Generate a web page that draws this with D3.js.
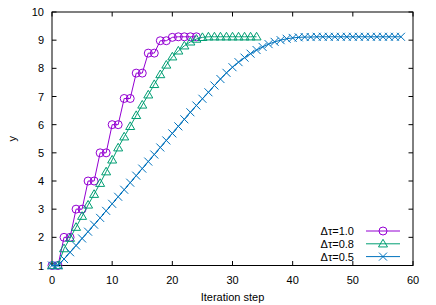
<!DOCTYPE html>
<html><head><meta charset="utf-8">
<script src="https://cdn.jsdelivr.net/npm/d3@7"></script>
<style>
html,body{margin:0;padding:0;background:#fff;}
svg text{font-family:"Liberation Sans",Arial,sans-serif;font-size:11px;fill:#000;}
</style></head>
<body><svg id="c" width="436" height="305"></svg>
<script>
// ---- data ----
const seriesNames = ["Δτ=1.0", "Δτ=0.8", "Δτ=0.5"];
const yDt10 = [1,1,2,2,3,3,4,4,5,5,6,6,6.93,6.93,7.83,7.83,8.54,8.54,8.98,8.98,9.1,9.12,9.12,9.12,9.12];
const yDt08 = [1,1,1.6,1.97,2.36,2.75,3.15,3.53,3.92,4.33,4.75,5.18,5.57,5.94,6.33,6.70,7.06,7.43,7.78,8.12,8.41,8.62,8.8,8.94,9.04,9.1,9.12,9.12,9.12,9.12,9.12,9.12,9.12,9.12,9.12];
const yDt05 = [1,1,1.23,1.47,1.71,1.96,2.2,2.45,2.69,2.94,3.19,3.44,3.69,3.94,4.19,4.44,4.69,4.94,5.19,5.44,5.69,5.94,6.19,6.44,6.68,6.92,7.15,7.39,7.62,7.84,8.04,8.22,8.38,8.52,8.65,8.76,8.86,8.94,9.0,9.05,9.08,9.1,9.11,9.11,9.12,9.12,9.12,9.12,9.12,9.12,9.12,9.12,9.12,9.12,9.12,9.12,9.12,9.12,9.12];
const xTicks = [0,10,20,30,40,50,60];
const yTicks = [1,2,3,4,5,6,7,8,9,10];
const xLabel = "Iteration step";
const yLabel = "y";

const colors = ["#9400d3", "#009e73", "#0072bd"];
const shapes = ["circle", "triangle", "cross"];
const allY = [yDt10, yDt08, yDt05];

const svg = d3.select("#c");
const L = 52, R = 413, T = 12, B = 265.5;
const x = d3.scaleLinear().domain([0, 60]).range([L, R]);
const y = d3.scaleLinear().domain([1, 10]).range([B, T]);

// border
svg.append("rect").attr("x", L).attr("y", T).attr("width", R - L).attr("height", B - T)
  .attr("fill", "none").attr("stroke", "#000").attr("stroke-width", 1);

// ticks (inward, mirrored)
const tl = 4.5;
const gAx = svg.append("g").attr("stroke", "#000").attr("stroke-width", 1);
xTicks.forEach(t => {
  gAx.append("line").attr("x1", x(t)).attr("x2", x(t)).attr("y1", B).attr("y2", B - tl);
  gAx.append("line").attr("x1", x(t)).attr("x2", x(t)).attr("y1", T).attr("y2", T + tl);
});
yTicks.forEach(t => {
  gAx.append("line").attr("x1", L).attr("x2", L + tl).attr("y1", y(t)).attr("y2", y(t));
  gAx.append("line").attr("x1", R).attr("x2", R - tl).attr("y1", y(t)).attr("y2", y(t));
});
xTicks.forEach(t => {
  svg.append("text").attr("x", x(t)).attr("y", B + 18).attr("text-anchor", "middle").text(t);
});
yTicks.forEach(t => {
  svg.append("text").attr("x", L - 8).attr("y", y(t) + 4).attr("text-anchor", "end").text(t);
});
svg.append("text").attr("x", (L + R) / 2).attr("y", 301).attr("text-anchor", "middle").text(xLabel);
svg.append("text").attr("transform", `translate(16,${(T + B) / 2}) rotate(-90)`)
  .attr("text-anchor", "middle").text(yLabel);

function marker(g, shape, cx, cy, col) {
  if (shape === "circle") {
    g.append("circle").attr("cx", cx).attr("cy", cy).attr("r", 4)
      .attr("fill", "none").attr("stroke", col).attr("stroke-width", 1);
  } else if (shape === "triangle") {
    const s = 4.5;
    g.append("path").attr("d", `M${cx},${cy - s}L${cx + s},${cy + s * 0.7}L${cx - s},${cy + s * 0.7}Z`)
      .attr("fill", "none").attr("stroke", col).attr("stroke-width", 1);
  } else {
    const s = 4;
    g.append("path").attr("d", `M${cx - s},${cy - s}L${cx + s},${cy + s}M${cx - s},${cy + s}L${cx + s},${cy - s}`)
      .attr("fill", "none").attr("stroke", col).attr("stroke-width", 1);
  }
}

const line = d3.line().x((d, i) => x(i)).y(d => y(d));
allY.forEach((vals, k) => {
  const g = svg.append("g");
  g.append("path").attr("d", line(vals)).attr("fill", "none")
    .attr("stroke", colors[k]).attr("stroke-width", 1);
  vals.forEach((v, i) => marker(g, shapes[k], x(i), y(v), colors[k]));
});

// legend
const ly0 = 231, ldy = 12.8;
seriesNames.forEach((n, k) => {
  const yy = ly0 + k * ldy;
  svg.append("text").attr("x", 354).attr("y", yy + 4).attr("text-anchor", "end").text(n);
  const g = svg.append("g");
  g.append("line").attr("x1", 366).attr("x2", 400).attr("y1", yy).attr("y2", yy)
    .attr("stroke", colors[k]).attr("stroke-width", 1);
  marker(g, shapes[k], 383, yy, colors[k]);
});
</script></body></html>
